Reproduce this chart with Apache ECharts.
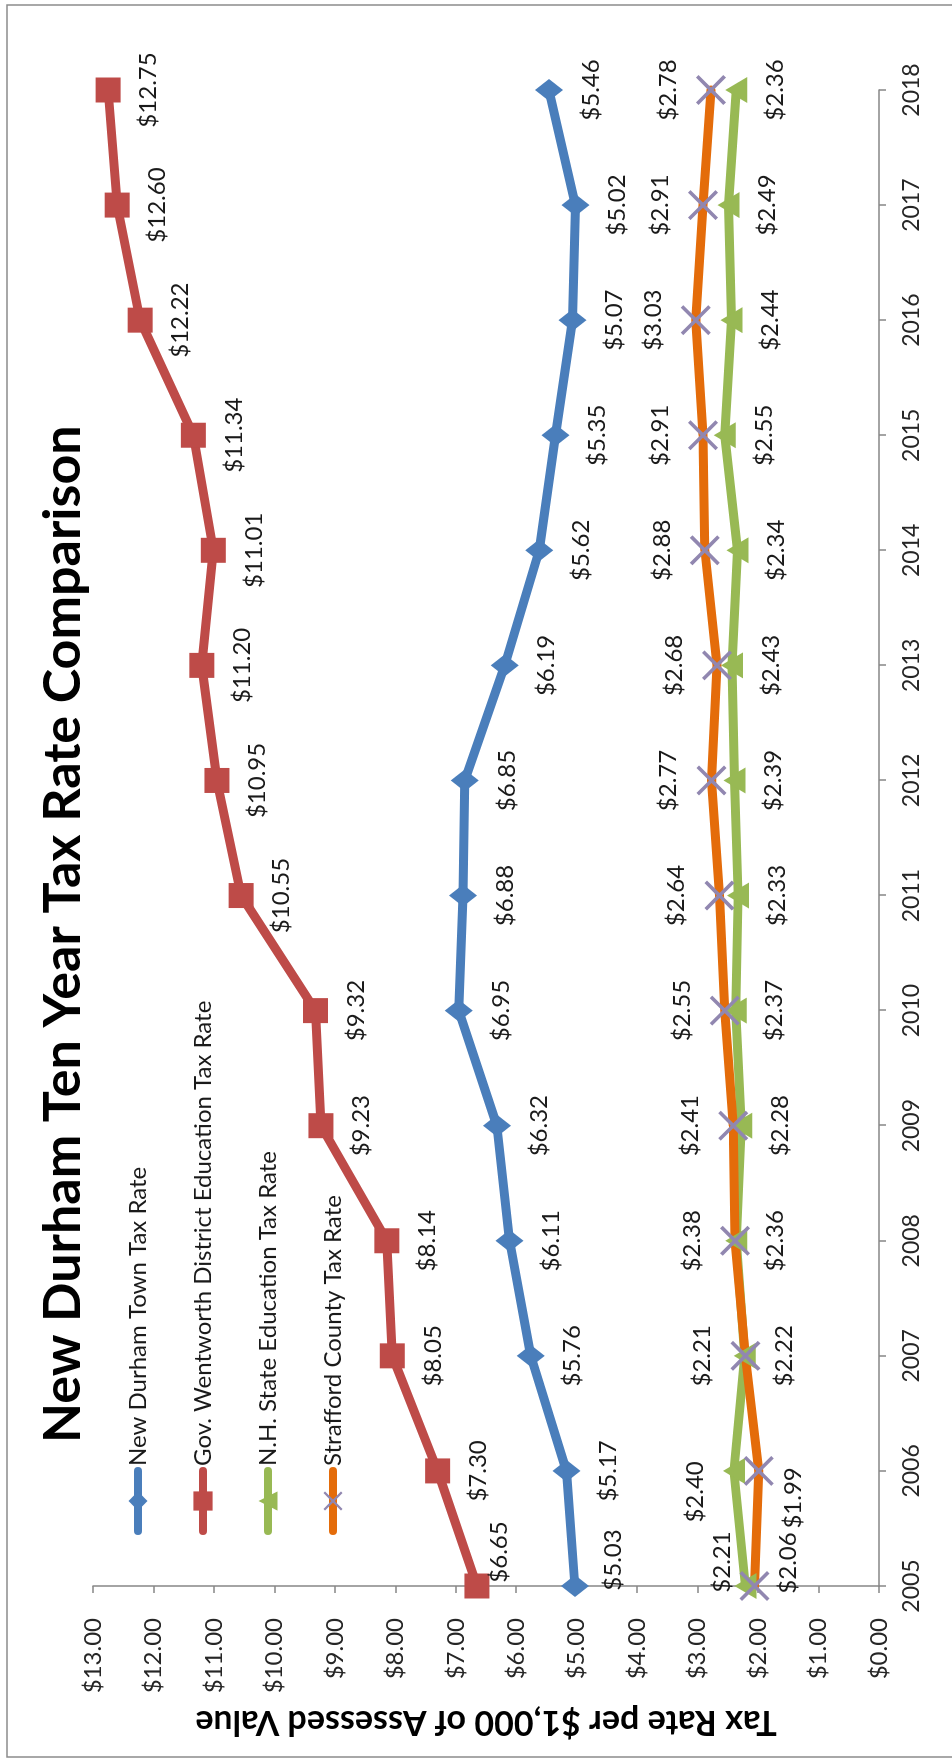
<!DOCTYPE html>
<html>
<head>
<meta charset="utf-8">
<script src="https://cdn.jsdelivr.net/npm/echarts@6/dist/echarts.min.js"></script>
<style>
  html, body { margin: 0; padding: 0; background: #fff; }
  body { width: 952px; height: 1761px; overflow: hidden; position: relative; }
  #chart {
    position: absolute; left: 0; top: 0;
    width: 1761px; height: 952px;
    transform-origin: 0 0;
    transform: translateY(1761px) rotate(-90deg);
  }
</style>
</head>
<body>
<div id="chart"></div>
<script>
// ---- data ----
const years = ['2005','2006','2007','2008','2009','2010','2011','2012','2013','2014','2015','2016','2017','2018'];
const seriesNames = [
  'New Durham Town Tax Rate',
  'Gov. Wentworth District Education Tax Rate',
  'N.H. State Education Tax Rate',
  'Strafford County Tax Rate'
];
const townRate     = [5.03, 5.17, 5.76, 6.11, 6.32, 6.95, 6.88, 6.85, 6.19, 5.62, 5.35, 5.07, 5.02, 5.46];
const districtRate = [6.65, 7.30, 8.05, 8.14, 9.23, 9.32, 10.55, 10.95, 11.20, 11.01, 11.34, 12.22, 12.60, 12.75];
const stateRate    = [2.21, 2.40, 2.22, 2.36, 2.28, 2.37, 2.33, 2.39, 2.43, 2.34, 2.55, 2.44, 2.49, 2.36];
const countyRate   = [2.06, 1.99, 2.21, 2.38, 2.41, 2.55, 2.64, 2.77, 2.68, 2.88, 2.91, 3.03, 2.91, 2.78];
const axisMin = 0, axisMax = 13, axisStep = 1;
const chartTitle = 'New Durham Ten Year Tax Rate Comparison';
const valueAxisTitle = 'Tax Rate per $1,000 of Assessed Value';

// ---- styling (kept apart from data) ----
const FONT = 'Lato, "Open Sans", sans-serif';
const colors = { town: '#4a7ebb', district: '#be4b48', state: '#98b954', county: '#e46c0a', xMark: '#9187b0' };
const X_PATH = 'path://M0,0.85 L0.85,0 L5,4.15 L9.15,0 L10,0.85 L5.85,5 L10,9.15 L9.15,10 L5,5.85 L0.85,10 L0,9.15 L4.15,5 Z';

// label placement tweaks, by point index
const tweaks = {
  town:     { 0: { offset: [26, -4] } },
  district: { 0: { offset: [34, -18] } },
  state:    { 0: { position: 'top', offset: [24, 16] }, 1: { position: 'top', offset: [-21, 0] } },
  county:   { 0: { position: 'bottom', offset: [23, -9] }, 1: { position: 'bottom', offset: [-27, -8] } }
};

function build(values, tw) {
  return values.map((v, i) => tw[i] ? { value: v, label: tw[i] } : v);
}

const labelBase = {
  show: true, fontFamily: FONT, fontSize: 24, color: '#1a1a1a', distance: 16,
  formatter: p => '$' + Number(p.value).toFixed(2)
};

function lineSeries(name, values, color, symbol, symbolSize, symbolColor, pos, tw) {
  return {
    name, type: 'line', data: build(values, tw),
    symbol, symbolSize, showAllSymbol: true,
    lineStyle: { color, width: 9, cap: 'round', join: 'round' },
    itemStyle: { color: symbolColor },
    label: Object.assign({}, labelBase, { position: pos }),
    emphasis: { disabled: true },
    animation: false
  };
}

const chart = echarts.init(document.getElementById('chart'), null, { renderer: 'canvas' });
chart.setOption({
  backgroundColor: '#fff',
  animation: false,
  title: {
    text: chartTitle, left: 313, top: 32,
    textStyle: { fontFamily: FONT, fontSize: 52, fontWeight: 'bold', color: '#000' }
  },
  legend: {
    orient: 'vertical', left: 221, top: 121,
    itemWidth: 60, itemHeight: 24, itemGap: 41,
    data: seriesNames,
    textStyle: { fontFamily: FONT, fontSize: 24, color: '#1a1a1a' },
    lineStyle: { width: 8 }
  },
  grid: { left: 175, right: 90, top: 93, bottom: 73 },
  xAxis: {
    type: 'category', data: years, boundaryGap: false,
    axisLine: { show: true, lineStyle: { color: '#868686', width: 1.5 } },
    axisTick: { show: true, alignWithLabel: true, length: 7, lineStyle: { color: '#868686', width: 1.5 } },
    axisLabel: { fontFamily: FONT, fontSize: 23, color: '#262626', margin: 21 },
    splitLine: { show: false }
  },
  yAxis: {
    type: 'value', min: axisMin, max: axisMax, interval: axisStep,
    name: valueAxisTitle, nameLocation: 'middle', nameRotate: 90, nameGap: 119,
    nameTextStyle: { fontFamily: FONT, fontSize: 34, fontWeight: 'bold', color: '#000' },
    axisLine: { show: true, lineStyle: { color: '#868686', width: 1.5 } },
    axisTick: { show: true, length: 7, lineStyle: { color: '#868686', width: 1.5 } },
    axisLabel: { fontFamily: FONT, fontSize: 24, color: '#262626', margin: 32,
      formatter: v => '$' + v.toFixed(2) },
    splitLine: { show: false }
  },
  graphic: [{
    type: 'rect', silent: true, z: -1,
    shape: { x: 4, y: 7, width: 1752, height: 950 },
    style: { fill: 'none', stroke: '#8c8c8c', lineWidth: 1.5 }
  }],
  series: [
    lineSeries(seriesNames[0], townRate, colors.town, 'diamond', [22, 28], colors.town, 'bottom', tweaks.town),
    lineSeries(seriesNames[1], districtRate, colors.district, 'rect', 25, colors.district, 'bottom', tweaks.district),
    lineSeries(seriesNames[2], stateRate, colors.state, 'triangle', [26, 22], colors.state, 'bottom', tweaks.state),
    lineSeries(seriesNames[3], countyRate, colors.county, X_PATH, 30, colors.xMark, 'top', tweaks.county)
  ]
});
</script>
</body>
</html>
